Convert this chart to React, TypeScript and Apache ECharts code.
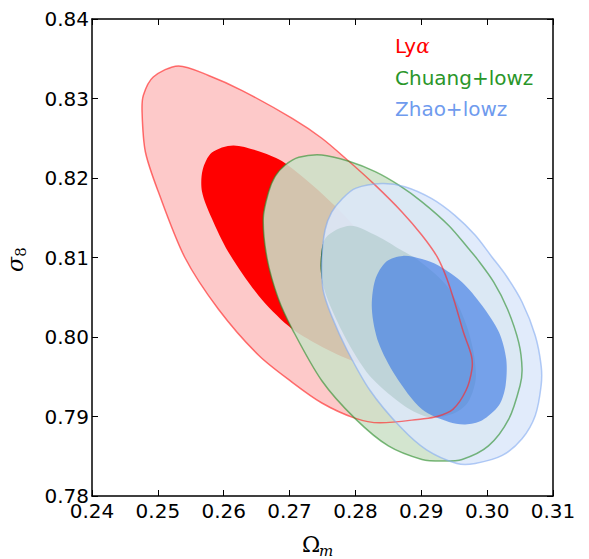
import React, { useEffect, useRef } from "react";
import * as echarts from "echarts";

type Pt = [number, number];

const xTicks = [0.24, 0.25, 0.26, 0.27, 0.28, 0.29, 0.3, 0.31];
const yTicks = [0.78, 0.79, 0.8, 0.81, 0.82, 0.83, 0.84];

const legendNames = ["Lyα", "Chuang+lowz", "Zhao+lowz"];

// Lyα 95% contour (Omega_m, sigma_8)
const lyaOuter: Pt[] = [
  [0.2531, 0.8341], [0.2577, 0.8329], [0.2628, 0.831], [0.2704, 0.8275],
  [0.2749, 0.825], [0.279, 0.8221], [0.283, 0.8191], [0.2871, 0.8157],
  [0.2901, 0.8128], [0.2924, 0.8101], [0.2939, 0.8073], [0.2952, 0.804],
  [0.2964, 0.8006], [0.2976, 0.7977], [0.2977, 0.796], [0.2968, 0.7933],
  [0.2948, 0.7909], [0.2924, 0.79], [0.2901, 0.7897], [0.2837, 0.7892],
  [0.2799, 0.7898], [0.2749, 0.7917], [0.2704, 0.7943], [0.2653, 0.7977],
  [0.2592, 0.8035], [0.2541, 0.81], [0.2501, 0.8182], [0.2481, 0.8233],
  [0.2476, 0.8283], [0.2478, 0.8304], [0.2493, 0.8327],
];
// Lyα 68% contour
const lyaInner: Pt[] = [
  [0.2615, 0.8241], [0.2662, 0.8231], [0.2696, 0.8217], [0.277, 0.8164],
  [0.2837, 0.81], [0.2872, 0.8053], [0.2881, 0.8009], [0.2865, 0.7976],
  [0.2825, 0.7964], [0.2784, 0.7974], [0.2731, 0.7996], [0.2698, 0.8014],
  [0.2653, 0.8052], [0.2607, 0.8107], [0.2582, 0.8149], [0.2567, 0.8183],
  [0.2568, 0.821], [0.2582, 0.8232],
];
// Chuang+lowz 95% contour
const chuangOuter: Pt[] = [
  [0.2693, 0.8216], [0.2714, 0.8226], [0.2749, 0.8229], [0.279, 0.8221],
  [0.283, 0.8208], [0.2866, 0.8191], [0.2901, 0.817], [0.2942, 0.814],
  [0.2972, 0.8111], [0.2985, 0.8098], [0.301, 0.8069], [0.3031, 0.8035],
  [0.3048, 0.7993], [0.3053, 0.796], [0.305, 0.7939], [0.3033, 0.7897],
  [0.3002, 0.7863], [0.2962, 0.7846], [0.2931, 0.7844], [0.2901, 0.7846],
  [0.285, 0.7863], [0.28, 0.7897], [0.2749, 0.7945], [0.2704, 0.801],
  [0.2683, 0.8048], [0.2666, 0.8098], [0.266, 0.8149], [0.2668, 0.8182],
  [0.2678, 0.8202],
];
// Chuang+lowz 68% contour
const chuangInner: Pt[] = [
  [0.2792, 0.814], [0.2833, 0.8127], [0.2868, 0.811], [0.2898, 0.8095],
  [0.2941, 0.8062], [0.2971, 0.8009], [0.2983, 0.7952], [0.2971, 0.7918],
  [0.2947, 0.7903], [0.2913, 0.7899], [0.2875, 0.7913], [0.2825, 0.7948],
  [0.2795, 0.7984], [0.2771, 0.8022], [0.2753, 0.8059], [0.2747, 0.8091],
  [0.2755, 0.8125],
];
// Zhao+lowz 95% contour
const zhaoOuter: Pt[] = [
  [0.284, 0.8193], [0.2875, 0.8189], [0.2916, 0.8174], [0.2951, 0.8153],
  [0.2982, 0.8128], [0.3007, 0.8101], [0.3029, 0.8077], [0.3053, 0.8044],
  [0.3073, 0.8002], [0.3082, 0.7964], [0.3082, 0.7939], [0.3073, 0.7901],
  [0.3053, 0.7872], [0.3023, 0.7851], [0.2982, 0.7841], [0.2954, 0.7841],
  [0.2908, 0.7858], [0.2868, 0.7887], [0.2822, 0.7933], [0.2787, 0.7984],
  [0.2764, 0.8026], [0.2751, 0.8059], [0.2749, 0.8097], [0.2754, 0.8135],
  [0.2764, 0.8157], [0.278, 0.8174], [0.28, 0.8187],
];
// Zhao+lowz 68% contour
const zhaoInner: Pt[] = [
  [0.2872, 0.8102], [0.2901, 0.8098], [0.2926, 0.809], [0.2962, 0.8069],
  [0.2992, 0.804], [0.3018, 0.8006], [0.3029, 0.7972], [0.3028, 0.7939],
  [0.3018, 0.7914], [0.2992, 0.7895], [0.2967, 0.789], [0.2942, 0.7893],
  [0.2901, 0.7909], [0.2861, 0.7951], [0.2835, 0.7993], [0.2825, 0.8035],
  [0.283, 0.8072], [0.2847, 0.8095],
];

const SMOOTH = 0.3;

function contourSeries(
  name: string,
  data: Pt[],
  fill: string,
  stroke: string | null,
  lineWidth: number
) {
  return {
    type: "custom",
    name,
    coordinateSystem: "cartesian2d",
    data,
    encode: { x: 0, y: 1 },
    silent: true,
    clip: true,
    renderItem: (params: any, api: any) => {
      if (params.dataIndex !== 0) return null;
      const points = data.map((p) => api.coord(p));
      return {
        type: "polygon",
        shape: { points, smooth: SMOOTH },
        style: {
          fill,
          stroke: stroke || "none",
          lineWidth,
        },
      };
    },
  };
}

const axisLineStyle = { show: true, onZero: false, lineStyle: { color: "#000", width: 1.5 } };
const tickStyle = { show: true, inside: true, length: 6, lineStyle: { color: "#000", width: 1 } };
const labelFont = { fontSize: 20, color: "#000", fontFamily: "DejaVu Sans" };

export default function App() {
  const ref = useRef<HTMLDivElement>(null);
  useEffect(() => {
    if (!ref.current) return;
    document.body.style.margin = "0";
    const chart = echarts.init(ref.current, undefined, { renderer: "svg" });
    const option: any = {
      animation: false,
      backgroundColor: "#fff",
      grid: { left: 92, top: 19, width: 461, height: 477, containLabel: false },
      xAxis: [
        {
          type: "value",
          position: "bottom",
          min: xTicks[0],
          max: xTicks[xTicks.length - 1],
          interval: 0.01,
          axisLine: axisLineStyle,
          axisTick: tickStyle,
          splitLine: { show: false },
          axisLabel: {
            ...labelFont,
            margin: 5,
            formatter: (v: number) => v.toFixed(2),
          },
        },
        {
          type: "value",
          position: "top",
          min: xTicks[0],
          max: xTicks[xTicks.length - 1],
          interval: 0.01,
          axisLine: axisLineStyle,
          axisTick: tickStyle,
          splitLine: { show: false },
          axisLabel: { show: false },
        },
      ],
      yAxis: [
        {
          type: "value",
          position: "left",
          min: yTicks[0],
          max: yTicks[yTicks.length - 1],
          interval: 0.01,
          axisLine: axisLineStyle,
          axisTick: tickStyle,
          splitLine: { show: false },
          axisLabel: {
            ...labelFont,
            margin: 3,
            formatter: (v: number) => v.toFixed(2),
          },
        },
        {
          type: "value",
          position: "right",
          min: yTicks[0],
          max: yTicks[yTicks.length - 1],
          interval: 0.01,
          axisLine: axisLineStyle,
          axisTick: tickStyle,
          splitLine: { show: false },
          axisLabel: { show: false },
        },
      ],
      series: [
        contourSeries("Lyα 95%", lyaOuter, "#fdc9c9", null, 0),
        contourSeries("Lyα 68%", lyaInner, "#ff0000", null, 0),
        contourSeries("Chuang 95%", chuangOuter, "rgba(205,225,200,0.87)", null, 0),
        contourSeries("Chuang 68%", chuangInner, "rgba(10,85,10,0.95)", null, 0),
        contourSeries("Zhao 95%", zhaoOuter, "rgba(220,232,250,0.86)", null, 0),
        contourSeries("Zhao 68%", zhaoInner, "rgba(60,120,228,0.64)", null, 0),
        contourSeries("Lyα line", lyaOuter, "none", "rgba(255,40,40,0.65)", 1.5),
        contourSeries("Chuang line", chuangOuter, "none", "rgba(40,140,40,0.6)", 1.5),
        contourSeries("Zhao line", zhaoOuter, "none", "rgba(130,170,240,0.6)", 1.5),
      ],
      graphic: [
        {
          type: "text",
          x: 395,
          y: 46,
          style: {
            text: "{a|Ly}{b|α}",
            textVerticalAlign: "middle",
            rich: {
              a: { fontSize: 20, fontFamily: "DejaVu Sans", fill: "#ff0000", color: "#ff0000" },
              b: { fontSize: 20, fontFamily: "DejaVu Serif", fontStyle: "italic", fill: "#ff0000", color: "#ff0000" },
            },
          },
        },
        {
          type: "text",
          x: 395,
          y: 78,
          style: {
            text: legendNames[1],
            fontSize: 20,
            fontFamily: "DejaVu Sans",
            fill: "#2a962a",
            textVerticalAlign: "middle",
          },
        },
        {
          type: "text",
          x: 395,
          y: 108.5,
          style: {
            text: legendNames[2],
            fontSize: 20,
            fontFamily: "DejaVu Sans",
            fill: "#6f9bee",
            textVerticalAlign: "middle",
          },
        },
        {
          type: "text",
          x: 311,
          y: 544,
          style: {
            text: "Ω",
            fontSize: 22,
            fontFamily: "DejaVu Serif",
            fill: "#000",
            textAlign: "center",
            textVerticalAlign: "middle",
          },
        },
        {
          type: "text",
          x: 319,
          y: 551,
          style: {
            text: "m",
            fontSize: 15,
            fontFamily: "DejaVu Serif",
            fontStyle: "italic",
            fill: "#000",
            textAlign: "left",
            textVerticalAlign: "middle",
          },
        },
        {
          type: "group",
          x: 15,
          y: 260,
          rotation: Math.PI / 2,
          children: [
            {
              type: "text",
              x: -4.5,
              y: 0,
              style: {
                text: "σ",
                fontSize: 22,
                fontFamily: "DejaVu Serif",
                fontStyle: "italic",
                fill: "#000",
                textAlign: "center",
                textVerticalAlign: "middle",
              },
            },
            {
              type: "text",
              x: 8,
              y: 5.5,
              style: {
                text: "8",
                fontSize: 15,
                fontFamily: "DejaVu Serif",
                fill: "#000",
                textAlign: "center",
                textVerticalAlign: "middle",
              },
            },
          ],
        },
      ],
    };
    chart.setOption(option);
    return () => chart.dispose();
  }, []);
  return <div ref={ref} style={{ width: 589, height: 559 }} />;
}
